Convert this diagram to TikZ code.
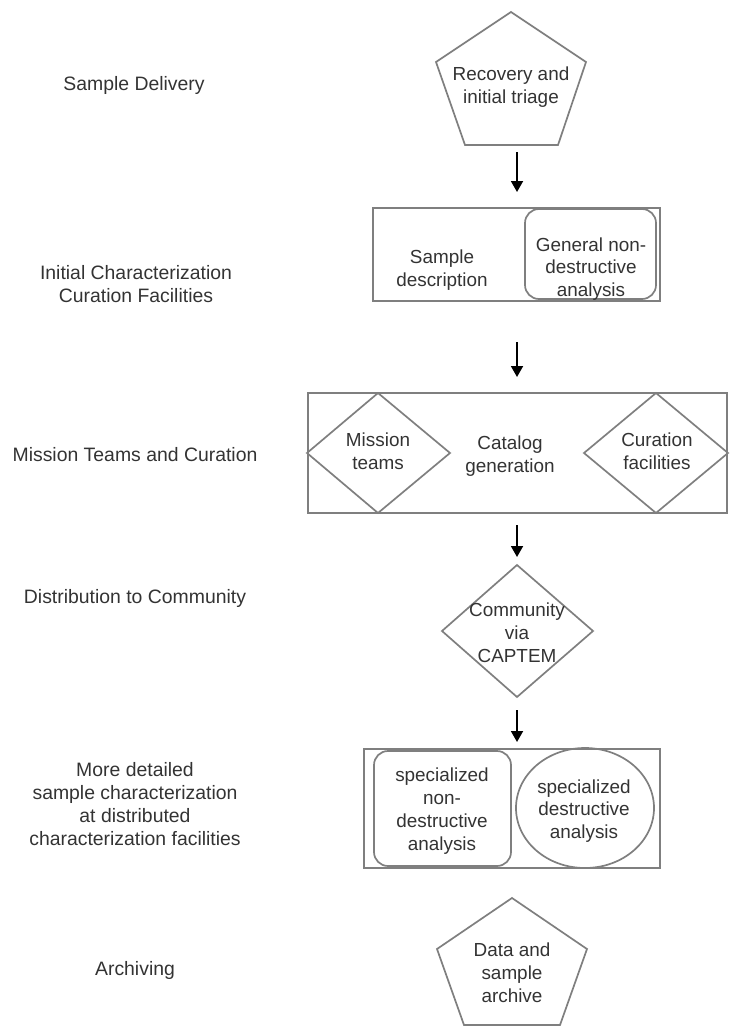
\documentclass[tikz,border=0pt]{standalone}
\usepackage{fontspec}
\setmainfont{Liberation Sans}
\usetikzlibrary{arrows.meta,shapes.geometric}
\definecolor{linegray}{HTML}{7F7F7F}
\definecolor{txt}{HTML}{333333}
\begin{document}
\begin{tikzpicture}[x=1pt,y=-1pt,
  lbl/.style={align=center,font=\fontsize{18.9}{22.8}\selectfont,text=txt,inner sep=0pt},
  stage/.style={lbl,font=\fontsize{19.4}{22.8}\selectfont},
  shp/.style={draw=linegray,line width=1.7pt,line join=miter},
  boxline/.style={draw=linegray,line width=2.2pt},
  arr/.style={-{Triangle[length=11pt,width=12pt]},line width=1.8pt,draw=black,fill=black}]
\useasboundingbox (0,0) rectangle (737,1031);

% left stage labels
\node[stage] (l1) at (134,85) {Sample Delivery};
\node[stage] (l2) at (136,284) {Initial Characterization\\Curation Facilities};
\node[stage] (l3) at (135,455) {Mission Teams and Curation};
\node[stage] (l4) at (135,598) {Distribution to Community};
\node[stage] (l5) at (135,804) {More detailed\\sample characterization\\at distributed\\characterization facilities};
\node[stage] (l6) at (135,970) {Archiving};

% top pentagon
\draw[shp] (511,12) -- (586,62) -- (558,145) -- (465,145) -- (436,62) -- cycle;
\node[lbl] (p1) at (511,87) {Recovery and\\initial triage};

% box 2
\draw[boxline] (373,208) rectangle (660,301);
\draw[shp,rounded corners=14pt] (525,209) rectangle (656,299);
\node[lbl] (sd) at (442,270) {Sample\\description};
\node[lbl] (gn) at (591,269) {General non-\\destructive\\analysis};

% box 3
\draw[boxline] (308,393) rectangle (727,513);
\draw[shp] (378,393) -- (450,453) -- (378,513) -- (307,453) -- cycle;
\draw[shp] (656,393) -- (728,453) -- (656,513) -- (584,453) -- cycle;
\node[lbl] (mt) at (378,451) {Mission\\teams};
\node[lbl] (cg) at (510,456) {Catalog\\generation};
\node[lbl] (cf) at (657,451) {Curation\\facilities};

% community diamond
\draw[shp] (517,565) -- (593,631) -- (517,697) -- (442,631) -- cycle;
\node[lbl] (cc) at (517,633) {Community\\via\\CAPTEM};

% box 5
\draw[boxline] (364,749) rectangle (660,868);
\draw[shp,rounded corners=14pt] (374,751) rectangle (511,866);
\draw[shp] (585,808) ellipse [x radius=69, y radius=60];
\node[lbl] (sn) at (442,811) {specialized\\non-\\destructive\\analysis};
\node[lbl] (sdes) at (584,811) {specialized\\destructive\\analysis};

% bottom pentagon
\draw[shp] (512,898) -- (587,949) -- (560,1025) -- (464,1025) -- (437,949) -- cycle;
\node[lbl] (ds) at (512,973) {Data and\\sample\\archive};

% arrows
\coordinate (a1s) at (517,152); \coordinate (a1e) at (517,192);
\coordinate (a2s) at (517,342); \coordinate (a2e) at (517,377);
\coordinate (a3s) at (517,525); \coordinate (a3e) at (517,557);
\coordinate (a4s) at (517,710); \coordinate (a4e) at (517,742);
\draw[arr] (a1s) -- (a1e);
\draw[arr] (a2s) -- (a2e);
\draw[arr] (a3s) -- (a3e);
\draw[arr] (a4s) -- (a4e);
\end{tikzpicture}
\end{document}
